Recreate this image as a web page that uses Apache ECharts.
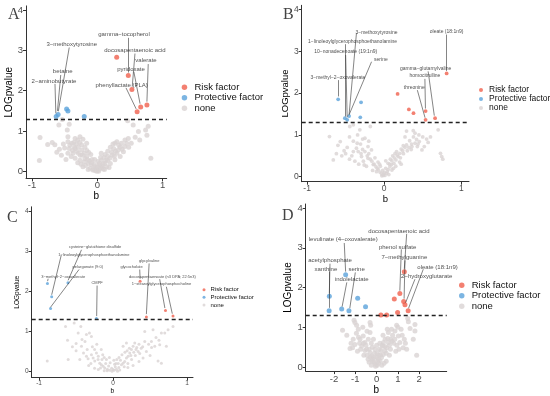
<!DOCTYPE html>
<html><head><meta charset="utf-8">
<script src="https://cdn.jsdelivr.net/npm/echarts@6/dist/echarts.min.js"></script>
<style>html,body{margin:0;padding:0;background:#fff}#c{width:550px;height:396px}</style>
</head><body><div id="c"></div>
<script>
// ---------- data ----------
const yTicks = [0, 1, 2, 3, 4];
const xTicksABC = [-1, 0, 1];
const xTicksD = [-2, -1, 0, 1, 2];
const seriesNames = ['Risk factor', 'Protective factor', 'none'];
const threshold = 1.3;

// Panel A
const riskA = [[0.297,2.83],[0.475,2.38],[0.53,2.03],[0.61,1.48],[0.665,1.60],[0.76,1.65]];
const protA = [[-0.63,1.36],[-0.60,1.41],[-0.47,1.55],[-0.45,1.50],[-0.20,1.36]];
const noneA = [[-0.877,0.84],[-0.887,0.27],[-0.76,0.67],[-0.69,0.72],[-0.65,0.66],[-0.588,1.15],[-0.537,1.29],[-0.46,1.03],[-0.43,1.17],[-0.45,0.86],
[-0.45,0.74],[-0.39,0.70],[-0.34,0.82],[-0.30,0.78],[-0.265,0.86],[-0.22,0.80],[-0.163,0.70],[-0.43,0.57],[-0.38,0.52],[-0.45,0.45],
[-0.40,0.37],[-0.34,0.57],[-0.29,0.61],[-0.24,0.53],[-0.29,0.45],[-0.23,0.41],[-0.34,0.33],[-0.265,0.28],[-0.20,0.24],[-0.163,0.37],
[-0.138,0.20],[-0.087,0.16],[-0.112,0.08],[-0.06,0.06],[-0.036,0.025],[-0.01,0.01],[0.015,0.04],[0.04,0.08],[0.077,0.14],[0.118,0.20],
[0.158,0.27],[0.143,0.12],[0.19,0.33],[0.23,0.41],[0.27,0.70],[0.30,0.74],[0.25,0.57],[0.32,0.53],[0.37,0.70],[0.424,0.78],
[0.475,0.82],[0.52,0.70],[0.55,1.15],[0.63,0.99],[0.74,1.03],[0.76,0.90],[0.82,0.33],[0.40,0.49],[0.35,0.37],[0.27,0.29],
[0.465,1.26],[0.78,1.12],[-0.18,0.15],[-0.15,0.30],[-0.12,0.26],[-0.08,0.30],[-0.05,0.18],[0.0,0.12],[0.03,0.20],[0.06,0.28],
[0.09,0.06],[0.10,0.35],[0.12,0.42],[0.16,0.50],[0.20,0.20],[-0.20,0.45],[-0.25,0.18],[-0.30,0.22],[-0.35,0.60],[-0.10,0.42],
[0.05,0.35],[0.20,0.60],[0.35,0.60],[0.30,0.45],[-0.07,0.04],[0.02,0.01],[0.07,0.10],[-0.02,0.07],[-0.50,0.58],[-0.55,0.40],
[-0.42,0.65],[-0.36,0.72],[-0.32,0.68],[-0.27,0.72],[-0.24,0.66],[-0.19,0.60],[-0.16,0.52],[-0.13,0.47],[-0.19,0.32],[-0.22,0.12],
[-0.14,0.05],[-0.09,0.22],[-0.04,0.30],[0.01,0.25],[0.04,0.15],[0.09,0.20],[0.13,0.28],[0.16,0.38],[0.22,0.48],[0.26,0.38],
[0.28,0.50],[0.33,0.65],[0.38,0.55],[0.42,0.62],[0.45,0.70],[0.48,0.60],[0.58,0.85],[0.65,0.78],[-0.52,0.68],[-0.58,0.55],
[-0.62,0.48],[-0.48,0.30],[-0.26,0.40],[0.11,0.05],[-0.03,0.12],[0.18,0.10],[0.24,0.68],[-0.31,0.50],[-0.37,0.45],[0.06,0.45]];

// Panel B
const riskB = [[0.174,1.98],[0.32,1.61],[0.38,1.52],[0.537,1.57],[0.537,1.36],[0.66,1.40],[0.81,2.47]];
const protB = [[-0.597,1.85],[-0.30,1.78],[-0.31,1.42],[-0.51,1.40],[-0.48,1.36],[-0.455,1.45]];
const noneB = [[-0.71,0.96],[-0.66,0.40],[-0.57,0.84],[-0.446,1.20],[-0.40,1.24],[-0.316,1.12],[-0.345,1.00],[-0.18,1.20],[-0.25,0.92],[-0.307,0.78],
[-0.21,0.72],[-0.165,0.64],[-0.25,0.60],[-0.337,0.60],[-0.40,0.60],[-0.45,0.42],[-0.38,0.37],[-0.294,0.48],[-0.27,0.37],[-0.21,0.44],
[-0.16,0.37],[-0.142,0.29],[-0.107,0.24],[-0.077,0.17],[-0.056,0.11],[-0.035,0.07],[-0.013,0.03],[0.009,0.03],[0.03,0.08],[0.052,0.17],
[0.074,0.24],[0.095,0.29],[0.126,0.32],[0.152,0.40],[0.18,0.48],[0.203,0.56],[0.16,0.60],[0.22,0.66],[0.247,0.74],[0.29,0.76],
[0.355,0.78],[0.33,0.86],[0.42,0.89],[0.40,1.04],[0.29,1.09],[0.377,1.10],[0.455,0.84],[0.43,0.72],[0.49,0.64],[0.746,0.48],
[0.76,0.42],[0.70,1.12],[0.73,0.56],[-0.12,0.45],[-0.08,0.35],[-0.05,0.25],[-0.02,0.15],[0.02,0.20],[0.05,0.32],[0.08,0.42],
[0.11,0.50],[0.14,0.55],[-0.20,0.55],[-0.30,0.55],[-0.10,0.12],[0.0,0.10],[0.10,0.16],[0.12,0.20],[0.25,0.55],[0.30,0.62],
[0.35,0.65],[0.38,0.95],[0.27,0.95],[-0.55,0.50],[-0.50,0.55],[-0.60,0.75],[-0.35,0.80],[-0.28,0.90],[0.45,1.00],[0.50,0.95],
[0.57,0.82],[0.06,0.05],[-0.03,0.02],[0.20,0.35],[-0.23,0.25],[-0.33,0.30],
[-0.42,0.50],[-0.36,0.68],[-0.28,0.65],[-0.22,0.50],[-0.18,0.42],[-0.13,0.30],[-0.09,0.20],[-0.06,0.30],[-0.15,0.15],[0.04,0.12],
[0.07,0.30],[0.10,0.38],[0.13,0.45],[0.17,0.52],[0.21,0.45],[0.24,0.62],[0.27,0.70],[0.32,0.70],[0.36,0.72],[0.40,0.80],
[0.44,0.78],[0.52,0.72],[0.55,0.90],[0.60,0.95],[-0.48,0.70],[-0.52,0.62],[-0.62,0.55],[-0.40,0.85],[-0.45,0.95],[-0.20,0.85],
[0.15,0.25],[0.22,0.30],[-0.26,0.28],[0.02,0.38],[-0.01,0.06]];

// Panel C
const riskC = [[0.365,2.25],[0.45,1.36],[0.708,1.52],[0.81,1.38]];
const protC = [[-0.887,2.19],[-0.83,1.86],[-0.845,1.57],[-0.61,2.21],[-0.225,1.32]];
const noneC = [[-0.89,0.26],[-0.607,0.30],[-0.616,0.78],[-0.643,1.12],[-0.526,1.21],[-0.436,1.12],[-0.472,0.96],[-0.36,0.92],[-0.32,0.96],[-0.293,0.87],
[-0.38,0.75],[-0.427,0.63],[-0.40,0.46],[-0.36,0.38],[-0.338,0.32],[-0.293,0.42],[-0.27,0.34],[-0.248,0.26],[-0.225,0.46],[-0.203,0.30],
[-0.18,0.21],[-0.158,0.17],[-0.135,0.13],[-0.113,0.09],[-0.077,0.06],[-0.045,0.03],[-0.014,0.01],[0.014,0.03],[0.045,0.06],[0.077,0.10],
[0.113,0.17],[0.135,0.21],[0.157,0.25],[0.18,0.34],[0.203,0.38],[0.225,0.46],[0.248,0.55],[0.27,0.63],[0.18,0.71],[0.135,0.63],
[0.293,0.71],[0.338,0.50],[0.36,0.45],[0.405,0.34],[0.428,0.75],[0.428,1.0],[0.518,0.75],[0.54,1.04],[0.563,0.63],[0.63,0.67],
[0.653,0.96],[0.698,0.96],[0.608,0.26],[0.653,0.21],[0.743,1.04],[0.81,1.12],[0.72,0.63],[-0.10,0.20],[-0.06,0.14],[-0.02,0.08],
[0.03,0.12],[0.07,0.20],[0.10,0.28],[-0.15,0.30],[-0.20,0.38],[-0.12,0.35],[0.05,0.30],[0.20,0.20],[0.25,0.30],[0.30,0.40],
[0.32,0.60],[-0.25,0.55],[-0.30,0.20],[-0.08,0.02],[0.0,0.05],[0.09,0.04],[0.15,0.12],[-0.17,0.09],[0.22,0.58],[0.38,0.58],
[0.45,0.50],[-0.45,0.30],[-0.50,0.52],[0.02,0.18],[-0.04,0.22],
[-0.35,0.55],[-0.28,0.62],[-0.22,0.68],[-0.16,0.55],[-0.14,0.42],[-0.09,0.30],[-0.05,0.35],[0.01,0.28],[0.04,0.20],[0.08,0.35],
[0.12,0.42],[0.16,0.48],[0.19,0.52],[0.24,0.40],[0.28,0.48],[0.31,0.55],[0.35,0.68],[0.40,0.62],[0.48,0.68],[0.52,0.60],
[0.58,0.85],[0.62,0.78],[-0.42,0.80],[-0.50,0.70],[-0.55,0.62],[-0.33,0.15],[-0.25,0.08],[0.27,0.15],[0.35,0.25],[0.50,0.40],
[0.20,0.10],[-0.20,0.05],[0.06,0.01],[-0.12,0.02]];

// Panel D
const riskD = [[0.20,1.31],[0.47,1.31],[0.83,1.71],[0.985,1.375],[1.09,1.85],[1.30,2.40],[1.27,1.65],[1.33,1.57],[1.48,1.42]];
const protD = [[-2.22,1.78],[-2.23,1.42],[-1.64,1.46],[-1.30,1.42],[-1.455,2.32],[-0.89,1.73],[-0.52,1.52]];
const noneD = [[-1.60,0.925],[-1.06,1.18],[-1.02,1.12],[-0.94,1.05],[-0.86,0.95],[-0.31,1.12],[-0.28,1.05],[-1.25,0.47],[-1.13,0.49],[-1.02,0.57],
[-0.78,0.70],[-0.70,0.53],[-0.63,0.78],[-0.55,0.62],[-0.47,0.45],[-0.39,0.70],[-0.31,0.87],[-0.31,0.37],[-0.23,0.28],[-0.19,0.20],
[-0.13,0.13],[-0.06,0.075],[0.03,0.05],[0.09,0.10],[0.16,0.16],[0.23,0.24],[0.31,0.32],[0.39,0.41],[0.28,0.53],[0.47,0.49],
[0.55,0.62],[0.66,0.70],[0.55,0.87],[0.50,0.95],[0.70,0.95],[0.86,0.91],[1.02,0.78],[1.09,0.62],[1.25,0.49],[1.41,0.45],
[1.80,1.07],[1.80,0.91],[1.72,0.70],[1.88,0.30],[1.49,1.14],[1.57,0.97],[1.46,1.22],[0.94,1.05],[-0.90,0.40],[-0.60,0.30],
[-0.40,0.20],[-0.50,0.55],[-0.80,0.60],[-1.10,0.70],[-0.20,0.50],[-0.10,0.35],[0.0,0.25],[0.10,0.30],[0.20,0.42],[0.40,0.70],
[0.30,0.80],[0.65,0.45],[0.80,0.60],[0.90,0.40],[1.20,0.80],[-0.05,0.02],[0.05,0.15],[-0.25,0.60],[-0.65,1.00],[0.15,0.60],
[0.60,0.30],[-0.35,0.12],[0.35,0.10],[1.00,1.00],[1.30,0.70],[-1.40,0.80],
[-0.85,0.75],[-0.75,0.45],[-0.55,0.42],[-0.45,0.30],[-0.35,0.45],[-0.30,0.25],[-0.20,0.15],[-0.12,0.25],[-0.08,0.45],[0.02,0.35],
[0.08,0.20],[0.12,0.45],[0.18,0.30],[0.25,0.55],[0.32,0.62],[0.38,0.52],[0.45,0.35],[0.52,0.72],[0.60,0.55],[0.72,0.65],
[0.75,0.80],[0.85,0.70],[0.95,0.55],[1.05,0.45],[1.15,0.95],[1.35,0.60],[-0.95,0.85],[-1.20,0.60],[-0.62,0.60],[-0.15,0.70],
[0.0,0.55],[-0.45,0.90],[0.25,0.05],[-0.25,0.05],[0.45,0.15]];

// annotations: [text, labelB, labelLOGp, arrowFromB, arrowFromLOGp, arrowToB, arrowToLOGp]
const annotA = [
 ['gamma\u2212tocopherol',0.409,3.40,0.475,3.31,0.475,2.45],
 ['docosapentaenoic acid',0.577,2.99,0.577,2.92,0.535,2.10],
 ['valerate',0.746,2.74,0.78,2.66,0.76,1.73],
 ['pyridoxate',0.516,2.54,0.56,2.47,0.655,1.68],
 ['phenyllactate (PLA)',0.373,2.13,0.44,2.07,0.595,1.55],
 ['3\u2212methoxytyrosine',-0.392,3.15,-0.43,3.07,-0.597,1.49],
 ['betaine',-0.53,2.47,-0.56,2.39,-0.61,1.50],
 ['2\u2212aminobutyrate',-0.663,2.24,-0.648,2.17,-0.635,1.44]];
const annotB = [
 ['oleate (18:1n9)',0.81,3.47,0.81,3.40,0.81,2.53],
 ['gamma\u2212glutamylvaline',0.537,2.59,0.57,2.52,0.65,1.46],
 ['homocitrulline',0.528,2.41,0.528,2.34,0.535,1.63],
 ['threonine',0.39,2.14,0.43,2.07,0.53,1.41],
 ['3\u2212methoxytyrosine',-0.10,3.45,-0.36,3.43,-0.455,1.49],
 ['1\u2212linoleoylglycerophosphoethanolamine',-0.41,3.23,-0.50,3.17,-0.50,1.44],
 ['10\u2212nonadecenoate (19:1n9)',-0.50,2.98,-0.50,2.91,-0.48,1.42],
 ['serine',-0.043,2.79,-0.164,2.75,-0.458,1.47],
 ['3\u2212methyl\u22122\u2212oxovalerate',-0.60,2.37,-0.60,2.31,-0.597,1.92]];
const annotC = [
 ['cysteine\u2212glutathione disulfide',-0.243,3.09,-0.427,3.03,-0.608,2.27],
 ['1\u2212linoleoylglycerophosphoethanolamine',-0.26,2.91,-0.70,2.90,-0.83,1.91],
 ['pelargonate (9:0)',-0.342,2.60,-0.46,2.54,-0.846,1.60],
 ['3\u2212methyl\u22122\u2212oxovalerate',-0.675,2.36,-0.878,2.31,-0.885,2.25],
 ['CMPF',-0.216,2.21,-0.216,2.14,-0.222,1.38],
 ['glycocholate',0.25,2.60,0.36,2.54,0.365,2.31],
 ['glycylvaline',0.487,2.76,0.487,2.69,0.45,1.43],
 ['docosapentaenoate (n3 DPA; 22:5n3)',0.667,2.36,0.63,2.30,0.70,1.58],
 ['1\u2212stearoylglycerophosphocholine',0.654,2.17,0.72,2.11,0.80,1.44]];
const annotD = [
 ['docosapentaenoic acid',1.05,3.42,1.41,3.35,1.30,2.47],
 ['phenol sulfate',0.985,3.02,1.16,2.96,1.09,1.92],
 ['7\u2212methylguanine',1.30,2.75,1.33,2.68,1.29,1.72],
 ['oleate (18:1n9)',2.86,2.52,2.19,2.46,1.50,1.48],
 ['2\u2212hydroxyglutarate',2.35,2.28,1.80,2.21,1.36,1.62],
 ['levulinate (4\u2212oxovalerate)',-1.57,3.21,-1.52,3.12,-1.455,2.40],
 ['acetylphosphate',-2.19,2.68,-2.19,2.60,-2.22,1.85],
 ['xanthine',-2.38,2.46,-2.23,2.40,-2.23,1.49],
 ['serine',-0.94,2.45,-1.0,2.38,-1.26,1.48],
 ['indolelactate',-1.17,2.20,-1.40,2.13,-1.62,1.52]];

// ---------- layout / style ----------
const COLORS = {risk:'#F0604D', prot:'#5BA3DB', none:'#D9D3D3'};
const FONT = 'Liberation Sans, Arial, sans-serif';
const panels = [
 {letter:'A', risk:riskA, prot:protA, none:noneA, ann:annotA, xTicks:xTicksABC,
  left:26, top:5.9, width:140.7, height:172.5, xMin:-1.092, xMax:1.063, yMin:-0.17, yMax:4.1,
  tick:9.5, name:10, xGap:6.5, yGap:11, dot:5, ann_fs:6, arrow:4, tm:2,
  leg:{left:181.7, top:82, w:10, h:5.5, fs:9.5, lh:10.5}, lt:{x:8, y:7, fs:16}},
 {letter:'B', risk:riskB, prot:protB, none:noneB, ann:annotB, xTicks:xTicksABC,
  left:301.7, top:5.3, width:167.3, height:176.4, xMin:-1.07, xMax:1.10, yMin:-0.12, yMax:4.1,
  tick:8.5, name:9.5, xGap:9, yGap:11, dot:3.8, ann_fs:5, arrow:3.5, tm:2.5,
  leg:{left:479, top:85.5, w:6, h:4, fs:8.5, lh:9}, lt:{x:283, y:7, fs:16}},
 {letter:'C', risk:riskC, prot:protC, none:noneC, ann:annotC, xTicks:xTicksABC,
  left:31.7, top:206.8, width:161.3, height:171.3, xMin:-1.10, xMax:1.08, yMin:-0.15, yMax:4.1,
  tick:6.5, name:6.5, xGap:4.5, yGap:6, dot:3, ann_fs:4, arrow:3, tm:2.5,
  leg:{left:202.5, top:285.9, w:3, h:3, fs:6, lh:7.6}, lt:{x:7, y:210, fs:16}},
 {letter:'D', risk:riskD, prot:protD, none:noneD, ann:annotD, xTicks:xTicksD,
  left:305.7, top:204, width:141, height:168, xMin:-3.33, xMax:3.29, yMin:-0.1, yMax:4.1,
  tick:9.5, name:10, xGap:11.5, yGap:12, dot:5, ann_fs:6, arrow:4, tm:3,
  leg:{left:459, top:280, w:10, h:5.5, fs:9.5, lh:10.5}, lt:{x:282, y:208, fs:16}}
];

const option = {animation:false, grid:[], xAxis:[], yAxis:[], series:[], legend:[], graphic:[]};
panels.forEach((p, i) => {
  option.grid.push({left:p.left, top:p.top, width:p.width, height:p.height});
  const axisCommon = {
    axisLine:{onZero:false, lineStyle:{color:'#333', width:1}},
    splitLine:{show:false},
    nameLocation:'middle',
    nameTextStyle:{fontSize:p.name, color:'#000', fontFamily:FONT}
  };
  option.xAxis.push(Object.assign({type:'value', gridIndex:i, min:p.xMin, max:p.xMax, name:'b', nameGap:p.xGap,
    axisTick:{show:true, length:3, customValues:p.xTicks, lineStyle:{color:'#333'}},
    axisLabel:{customValues:p.xTicks, fontSize:p.tick, color:'#4d4d4d', margin:p.tm, fontFamily:FONT}}, axisCommon));
  option.yAxis.push(Object.assign({type:'value', gridIndex:i, min:p.yMin, max:p.yMax, name:'LOGpvalue', nameGap:p.yGap,
    axisTick:{show:true, length:3, customValues:yTicks, lineStyle:{color:'#333'}},
    axisLabel:{customValues:yTicks, fontSize:p.tick, color:'#4d4d4d', margin:3, fontFamily:FONT}}, axisCommon));
  const base = {type:'scatter', xAxisIndex:i, yAxisIndex:i, symbolSize:p.dot, emphasis:{disabled:true}, silent:true};
  option.series.push(Object.assign({}, base, {name:'none', data:p.none, itemStyle:{color:COLORS.none}, z:2,
    markLine:{silent:true, symbol:'none', label:{show:false}, lineStyle:{type:[4,3], color:'#222', width:1.3},
      data:[{yAxis:threshold}]}}));
  option.series.push(Object.assign({}, base, {name:'Protective factor', data:p.prot, itemStyle:{color:COLORS.prot}, z:3}));
  option.series.push(Object.assign({}, base, {name:'Risk factor', data:p.risk, itemStyle:{color:COLORS.risk}, z:3}));
  option.series.push(Object.assign({}, base, {name:'labels' + p.letter, symbolSize:0, z:5,
    data:p.ann.map(a => ({name:a[0], value:[a[1], a[2]]})),
    label:{show:true, position:'inside', formatter:'{b}', fontSize:p.ann_fs, color:'#222', fontFamily:FONT},
    markLine:{silent:true, symbol:['none','arrow'], symbolSize:[0, p.arrow], label:{show:false},
      lineStyle:{color:'#333', width:0.6, type:'solid'},
      data:p.ann.map(a => [{coord:[a[3], a[4]]}, {coord:[a[5], a[6]]}])}}));
  option.legend.push({orient:'vertical', left:p.leg.left, top:p.leg.top, padding:0, itemGap:0,
    itemWidth:p.leg.w, itemHeight:p.leg.h, icon:'circle', selectedMode:false, data:seriesNames,
    textStyle:{fontSize:p.leg.fs, lineHeight:p.leg.lh, color:'#111', fontFamily:FONT}});
  option.graphic.push({type:'text', left:p.lt.x, top:p.lt.y,
    style:{text:p.letter, font:p.lt.fs + 'px "Liberation Serif", serif', fill:'#444'}});
});

const chart = echarts.init(document.getElementById('c'), null, {renderer:'canvas'});
chart.setOption(option);
</script></body></html>
